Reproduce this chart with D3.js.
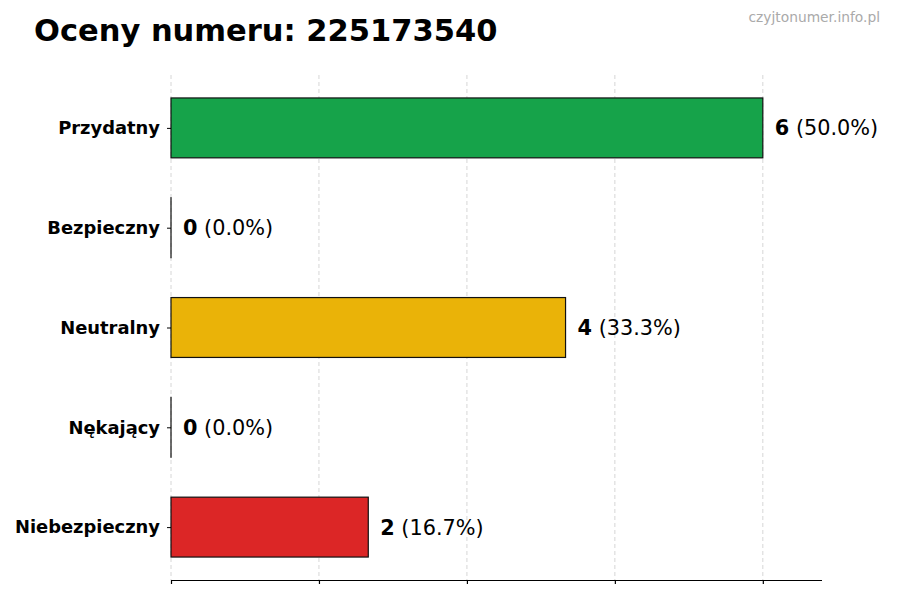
<!DOCTYPE html>
<html>
<head>
<meta charset="utf-8">
<script src="https://cdn.jsdelivr.net/npm/d3@7"></script>
<style>
  body { margin: 0; background: #fff; }
  svg { font-family: "DejaVu Sans", sans-serif; }
</style>
</head>
<body>
<div id="chart"></div>
<script>
var categories = ["Przydatny", "Bezpieczny", "Neutralny", "Nękający", "Niebezpieczny"];
var counts = [6, 0, 4, 0, 2];
var percents = ["50.0%", "0.0%", "33.3%", "0.0%", "16.7%"];
var colors = ["#16a34a", "#16a34a", "#eab308", "#eab308", "#dc2626"];
var xTicks = [0, 1.5, 3, 4.5, 6];

var width = 900, height = 600;
var plotLeft = 171, plotRight = 822, plotTop = 75, plotBottom = 580;

var svg = d3.select("#chart").append("svg")
    .attr("width", width).attr("height", height);

var x = d3.scaleLinear().domain([0, 6.6]).range([plotLeft, plotRight]);
var y = d3.scaleLinear().domain([-0.53, categories.length - 1 + 0.53]).range([plotTop, plotBottom]);
var barH = y(0.3) - y(-0.3);

// grid
svg.append("g").selectAll("line")
    .data(xTicks)
    .enter().append("line")
    .attr("x1", d => x(d)).attr("x2", d => x(d))
    .attr("y1", plotTop).attr("y2", plotBottom)
    .attr("stroke", "#cccccc")
    .attr("stroke-width", 0.8)
    .attr("stroke-dasharray", "4,3");

// bars (zero bars still show their edge, like matplotlib)
svg.append("g").selectAll("rect")
    .data(counts)
    .enter().append("rect")
    .attr("x", x(0))
    .attr("y", (d, i) => y(i) - barH / 2)
    .attr("width", d => Math.max(x(d) - x(0), 0.01))
    .attr("height", barH)
    .attr("fill", (d, i) => colors[i])
    .attr("stroke", "#111")
    .attr("stroke-width", 1.2);

// value labels
var lab = svg.append("g").selectAll("text")
    .data(counts)
    .enter().append("text")
    .attr("x", d => x(d) + 12)
    .attr("y", (d, i) => y(i))
    .attr("dy", "0.36em")
    .attr("font-size", 20.8)
    .attr("fill", "#000");
lab.append("tspan").attr("font-weight", "bold").text(d => d);
lab.append("tspan").text((d, i) => " (" + percents[i] + ")");

// x axis
var xAxis = d3.axisBottom(x).tickValues(xTicks).tickSize(4).tickFormat("");
var gx = svg.append("g").attr("transform", "translate(0," + plotBottom + ")").call(xAxis);
gx.select(".domain").attr("d", "M" + plotLeft + ",0.5H" + plotRight).attr("stroke", "#000").attr("stroke-width", 1.2);
gx.selectAll(".tick line").attr("stroke", "#000").attr("stroke-width", 1.2);

// y axis
var yAxis = d3.axisLeft(y).tickValues(d3.range(categories.length)).tickSize(4)
    .tickFormat(i => categories[i]);
var gy = svg.append("g").attr("transform", "translate(" + plotLeft + ",0)").call(yAxis);
gy.select(".domain").remove();
gy.selectAll(".tick line").attr("stroke", "#000");
gy.selectAll(".tick text")
    .attr("x", -11)
    .attr("font-size", 17.9)
    .attr("font-weight", "bold")
    .attr("font-family", "DejaVu Sans, sans-serif")
    .attr("fill", "#000");

// title
svg.append("text")
    .attr("x", 34).attr("y", 41)
    .attr("font-size", 30.5)
    .attr("font-weight", "bold")
    .text("Oceny numeru: 225173540");

svg.append("text")
    .attr("x", 880).attr("y", 22)
    .attr("text-anchor", "end")
    .attr("font-size", 13.8)
    .attr("fill", "#aaaaaa")
    .text("czyjtonumer.info.pl");
</script>
</body>
</html>
